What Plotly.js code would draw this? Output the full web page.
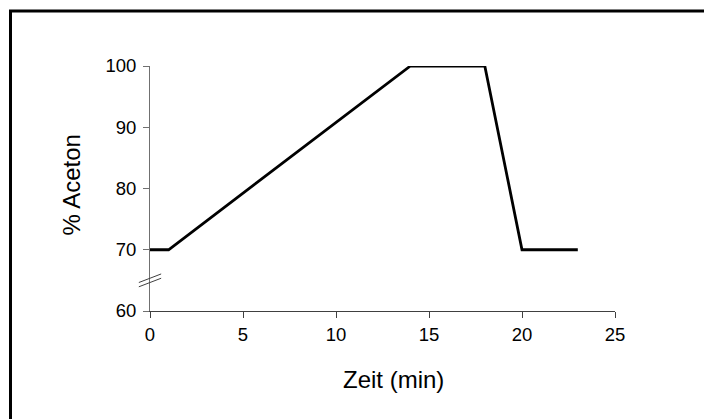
<!DOCTYPE html>
<html>
<head>
<meta charset="utf-8">
<script src="https://cdn.plot.ly/plotly-3.0.1.min.js"></script>
<style>html,body{margin:0;padding:0;background:#fff;}#chart{width:704px;height:419px;}</style>
</head>
<body>
<div id="chart"></div>
<script>
// Data
const timeMin = [0, 1, 14, 18, 20, 23];
const acetonePct = [70, 70, 100, 100, 70, 70];
const xTicks = [0, 5, 10, 15, 20, 25];
const yTicks = [60, 70, 80, 90, 100];
const xTitle = 'Zeit (min)';
const yTitle = '% Aceton';
const xRange = [0, 25];
const yRange = [60, 100];
const axisBreakAt = 65; // y value where the axis-break marks are drawn

const FONT = 'Arial, "Liberation Sans", sans-serif';

// convert data coords to paper coords for decorations
const px = v => (v - xRange[0]) / (xRange[1] - xRange[0]);
const py = v => (v - yRange[0]) / (yRange[1] - yRange[0]);

const trace = {
  x: timeMin,
  y: acetonePct,
  mode: 'lines',
  line: {color: '#000000', width: 2.8},
  cliponaxis: false,
  hoverinfo: 'skip'
};

const breakShapes = [-0.35, 0.35].map(dy => ({
  type: 'line', xref: 'paper', yref: 'paper',
  x0: px(-0.6), y0: py(axisBreakAt + dy - 0.7),
  x1: px(0.6), y1: py(axisBreakAt + dy + 0.7),
  line: {color: '#404040', width: 1}
}));

const layout = {
  width: 704, height: 419,
  margin: {l: 150, r: 89, t: 66, b: 108, pad: 0},
  paper_bgcolor: '#ffffff',
  plot_bgcolor: '#ffffff',
  showlegend: false,
  font: {family: FONT, color: '#000000', size: 18},
  xaxis: {
    range: xRange,
    tickvals: xTicks,
    ticktext: xTicks.map(String),
    showgrid: false, zeroline: false,
    showline: true, linecolor: '#404040', linewidth: 1,
    ticks: 'outside', ticklen: 6, tickcolor: '#404040', tickwidth: 1,
    tickfont: {family: FONT, size: 18.5, color: '#000'},
    ticklabelstandoff: 1,
    fixedrange: true
  },
  yaxis: {
    range: yRange,
    tickvals: yTicks,
    ticktext: yTicks.map(String),
    showgrid: false, zeroline: false,
    showline: true, linecolor: '#707070', linewidth: 1,
    ticks: 'outside', ticklen: 6, tickcolor: '#707070', tickwidth: 1,
    tickfont: {family: FONT, size: 18.5, color: '#000'},
    ticklabelstandoff: 3,
    fixedrange: true
  },
  annotations: [
    {text: xTitle, xref: 'paper', yref: 'paper', x: px(12.5 + 0.6), y: -0.28,
     xanchor: 'center', yanchor: 'middle', showarrow: false,
     font: {family: FONT, size: 24, color: '#000'}},
    {text: yTitle, xref: 'paper', yref: 'paper', x: -0.168, y: 0.5 + 0.016,
     xanchor: 'center', yanchor: 'middle', textangle: -90, showarrow: false,
     font: {family: FONT, size: 24, color: '#000'}}
  ],
  shapes: [
    {type: 'rect', xref: 'paper', yref: 'paper',
     x0: -0.3, y0: -0.47, x1: 1.86, y1: 1.2245,
     line: {color: '#000000', width: 3}, fillcolor: 'rgba(0,0,0,0)'}
  ].concat(breakShapes)
};

Plotly.newPlot('chart', [trace], layout, {staticPlot: true, displayModeBar: false});
</script>
</body>
</html>
